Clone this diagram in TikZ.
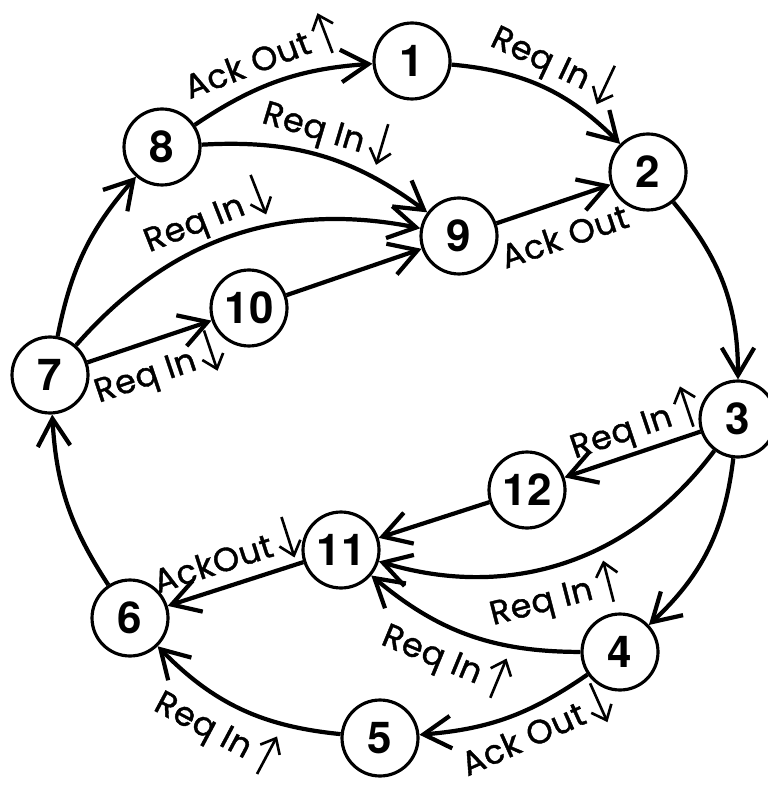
\documentclass[tikz,border=0pt]{standalone}
\usepackage{fontspec}
\setmainfont{TeX Gyre Heros}
\newfontfamily\lblfont[FakeBold=1.2, LetterSpace=2]{Poppins}
\usetikzlibrary{arrows.meta}

\newcommand{\upsig}{\,\tikz[baseline=0pt, x=1cm, y=1cm]\draw[line width=1.5pt, -{Straight Barb[length=2.6mm, width=4.4mm]}] (0,-0.15) -- (0,0.7);}
\newcommand{\dnsig}{\,\tikz[baseline=0pt, x=1cm, y=1cm]\draw[line width=1.5pt, -{Straight Barb[length=2.6mm, width=4.4mm]}] (0,0.7) -- (0,-0.15);}

\begin{document}
\begin{tikzpicture}[
    x=0.02cm, y=-0.02cm,
    state/.style={circle, draw=black, line width=1.8pt, minimum size=1.52cm, inner sep=0pt, font=\fontsize{25}{25}\selectfont\bfseries},
    sig/.style={line width=2.4pt, draw=black, -{Straight Barb[length=5.5mm, width=6.5mm]}},
    lbl/.style={sloped, inner sep=3pt, font=\lblfont\fontsize{19}{19}\selectfont}
]
\useasboundingbox (0,0) rectangle (767,786);

% states
\node[state] (n1)  at (412, 61)  {1};
\node[state] (n2)  at (648, 172) {2};
\node[state] (n3)  at (738, 419) {3};
\node[state] (n4)  at (620, 652) {4};
\node[state] (n5)  at (380, 738) {5};
\node[state] (n6)  at (130, 618) {6};
\node[state] (n7)  at (50, 375)  {7};
\node[state] (n8)  at (162, 147) {8};
\node[state] (n9)  at (459, 236) {9};
\node[state] (n10) at (249, 308) {10};
\node[state] (n11) at (341, 550) {11};
\node[state] (n12) at (527, 490) {12};

% outer ring
\draw[sig] (n8) to[bend left=15] node[lbl, above, pos=.45] {Ack Out\upsig} (n1);
\draw[sig] (n1) to[bend left=20] node[lbl, above] {Req In\dnsig} (n2);
\draw[sig] (n2) to[bend left=20] (n3);
\draw[sig] (n3) to[bend left=20] (n4);
\draw[sig] (n4) to[bend left=15] node[lbl, below, pos=.38, inner sep=0pt] {Ack Out\dnsig} (n5);
\draw[sig] (n5) to[bend left=20] node[lbl, below, pos=.55] {Req In\upsig} (n6);
\draw[sig] (n6) to[bend left=15] (n7);
\draw[sig] (n7) to[bend left=15] (n8);

% upper half
\draw[sig] (n8) to[bend left=20] node[lbl, above] {Req In\dnsig} (n9);
\draw[sig] (n7) to[bend left=30] node[lbl, above, pos=.46] {Req In\dnsig} (n9);
\draw[sig] (n7) -- node[lbl, below, pos=.5] {Req In\dnsig} (n10);
\draw[sig] (n10) -- (n9);
\draw[sig] (n9) -- node[lbl, below=8pt, pos=.5] {Ack Out} (n2);

% lower half
\draw[sig] (n3) -- node[lbl, above, pos=.42] {Req In\upsig} (n12);
\draw[sig] (n3) to[bend left=35] node[lbl, below, pos=.55] {Req In\upsig} (n11);
\draw[sig] (n12) -- (n11);
\draw[sig] (n4) to[bend left=20] node[lbl, below, pos=.55] {Req In\upsig} (n11);
\draw[sig] (n11) -- node[lbl, above] {AckOut\dnsig} (n6);

\end{tikzpicture}
\end{document}
